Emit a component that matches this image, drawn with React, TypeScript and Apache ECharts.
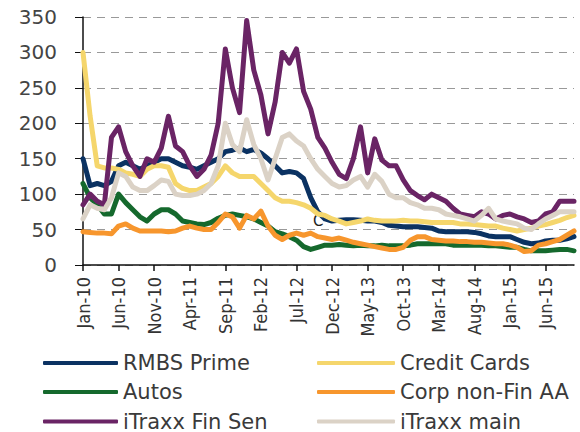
import React, { useEffect, useRef } from "react";
import * as echarts from "echarts";

const months = [
  "Jan-10","Feb-10","Mar-10","Apr-10","May-10","Jun-10","Jul-10","Aug-10","Sep-10","Oct-10","Nov-10","Dec-10",
  "Jan-11","Feb-11","Mar-11","Apr-11","May-11","Jun-11","Jul-11","Aug-11","Sep-11","Oct-11","Nov-11","Dec-11",
  "Jan-12","Feb-12","Mar-12","Apr-12","May-12","Jun-12","Jul-12","Aug-12","Sep-12","Oct-12","Nov-12","Dec-12",
  "Jan-13","Feb-13","Mar-13","Apr-13","May-13","Jun-13","Jul-13","Aug-13","Sep-13","Oct-13","Nov-13","Dec-13",
  "Jan-14","Feb-14","Mar-14","Apr-14","May-14","Jun-14","Jul-14","Aug-14","Sep-14","Oct-14","Nov-14","Dec-14",
  "Jan-15","Feb-15","Mar-15","Apr-15","May-15","Jun-15","Jul-15","Aug-15","Sep-15","Oct-15",
];

const rmbsPrime = [
  150,112,115,112,118,140,145,140,135,140,145,150,
  150,145,140,138,135,140,145,150,160,162,165,160,
  163,158,150,140,130,132,130,122,95,75,65,62,
  63,64,64,63,62,62,60,56,55,54,54,54,
  53,52,48,47,47,47,47,46,44,41,40,40,
  40,36,32,30,31,34,35,35,37,40,
];

const creditCards = [
  300,210,140,137,137,135,130,128,125,135,140,140,
  138,115,108,105,105,110,115,125,140,130,125,125,
  125,115,105,95,90,90,88,85,80,72,70,65,
  62,58,60,62,65,63,62,62,62,63,62,62,
  61,60,60,60,60,58,58,57,56,55,55,52,
  50,48,50,52,55,57,60,63,67,70,
];

const autos = [
  115,95,85,72,72,100,88,78,68,62,72,78,
  78,72,62,60,58,57,60,66,70,72,70,68,
  65,60,55,47,44,40,35,26,22,25,28,28,
  29,28,27,28,27,27,28,27,27,27,28,30,
  30,30,30,30,28,28,28,28,28,27,27,26,
  25,25,22,20,20,20,21,22,22,20,
];

const corpNonFin = [
  47,46,45,45,44,55,58,52,48,48,48,48,
  47,48,52,55,52,50,50,60,72,68,52,70,
  65,76,55,42,36,42,45,42,45,40,38,36,
  38,35,32,30,28,26,24,22,22,25,35,40,
  40,36,35,34,34,33,33,32,32,31,30,30,
  28,25,19,20,28,30,33,36,42,48,
];

const itraxxFinSen = [
  85,100,90,85,180,195,160,140,125,150,145,165,
  210,168,160,140,125,135,155,200,305,250,215,345,
  275,240,185,230,300,285,305,245,220,180,165,145,
  128,122,150,195,130,178,148,140,140,120,105,98,
  92,100,95,90,80,72,70,68,75,72,65,70,
  72,68,65,60,62,72,75,90,90,90,
];

const itraxxMain = [
  65,85,80,78,95,130,125,110,105,105,112,120,
  118,100,98,98,100,105,115,140,200,170,160,205,
  170,150,120,150,180,185,175,168,150,135,125,115,
  110,112,120,125,110,128,118,100,95,95,88,85,
  80,80,78,72,70,68,65,62,70,80,65,62,
  60,58,52,50,58,65,70,75,75,75,
];

const seriesNames = [
  "RMBS Prime",
  "Credit Cards",
  "Autos",
  "Corp non-Fin AA",
  "iTraxx Fin Sen",
  "iTraxx main",
];
const seriesColors = ["#0b3262", "#f5d66c", "#15692d", "#f7962d", "#6a2465", "#dbd2c6"];
const seriesData = [rmbsPrime, creditCards, autos, corpNonFin, itraxxFinSen, itraxxMain];

const yTicks = [0, 50, 100, 150, 200, 250, 300, 350];

export default function App() {
  const ref = useRef<HTMLDivElement>(null);

  useEffect(() => {
    document.body.style.margin = "0";
    if (!ref.current) return;
    const chart = echarts.init(ref.current, undefined, { renderer: "svg" });
    const legendText = {
      fontFamily: "DejaVu Sans",
      fontSize: 21,
      color: "#3a3a3a",
      lineHeight: 24,
    };
    const legendPos = [
      { left: 43, top: 351 },
      { left: 317, top: 351 },
      { left: 43, top: 380 },
      { left: 317, top: 380 },
      { left: 43, top: 409.5 },
      { left: 317, top: 409.5 },
    ];
    chart.setOption({
      animation: false,
      backgroundColor: "#fff",
      grid: { left: 83, right: 6, top: 17, bottom: 167, containLabel: false },
      xAxis: {
        type: "category",
        data: months,
        boundaryGap: false,
        axisLine: { show: true, lineStyle: { color: "#111", width: 1.5 } },
        axisTick: {
          show: true,
          interval: 4,
          length: 6,
          lineStyle: { color: "#111", width: 1.5 },
        },
        axisLabel: {
          interval: 4,
          rotate: 90,
          margin: 12,
          fontFamily: "'Liberation Sans Narrow', 'DejaVu Sans Condensed', sans-serif",
          fontSize: 18,
          color: "#333",
        },
        splitLine: { show: false },
      },
      yAxis: {
        type: "value",
        min: yTicks[0],
        max: yTicks[yTicks.length - 1],
        interval: 50,
        axisLine: { show: true, lineStyle: { color: "#111", width: 1.5 } },
        axisTick: { show: true, length: 8, inside: false, lineStyle: { color: "#111", width: 1 } },
        axisLabel: {
          margin: 26,
          fontFamily: "DejaVu Sans",
          fontSize: 20,
          color: "#444",
        },
        splitLine: {
          show: true,
          lineStyle: { color: "#999", type: [8, 6], width: 1 },
        },
      },
      legend: seriesNames.map((name, i) => ({
        left: legendPos[i].left,
        top: legendPos[i].top,
        orient: "horizontal",
        itemWidth: i % 2 === 0 ? 75 : 78,
        itemHeight: 4,
        icon: "roundRect",
        padding: 0,
        textStyle: legendText,
        data: [name],
      })),
      graphic: [
        {
          type: "text",
          left: 313,
          top: 213,
          style: { text: "C", fontFamily: "DejaVu Sans", fontSize: 15, fill: "#222" },
        },
      ],
      series: seriesNames.map((name, i) => ({
        name,
        type: "line",
        data: seriesData[i],
        symbol: "none",
        color: seriesColors[i],
        lineStyle: { width: 5, color: seriesColors[i], cap: "round", join: "round" },
        z: 2 + i,
      })),
    });
    return () => chart.dispose();
  }, []);

  return <div ref={ref} style={{ width: 580, height: 432 }} />;
}
